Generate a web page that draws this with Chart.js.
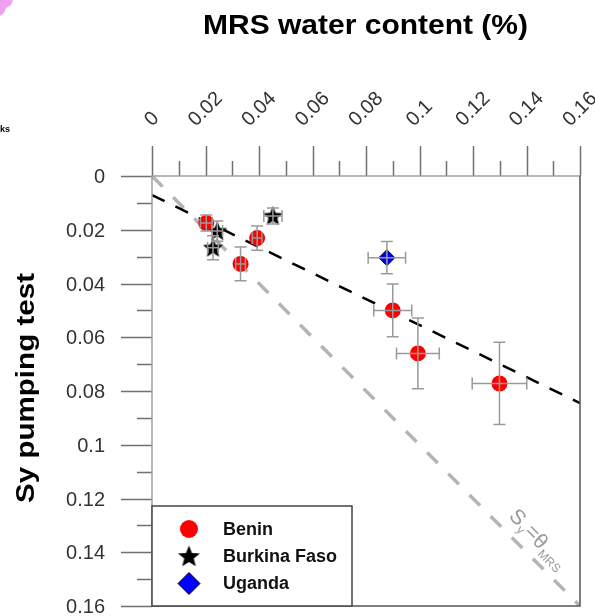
<!DOCTYPE html>
<html><head><meta charset="utf-8">
<script src="https://cdn.jsdelivr.net/npm/chart.js@4/dist/chart.umd.min.js"></script>
<style>html,body{margin:0;padding:0;background:#fff}#wrap{width:595px;height:616px;position:relative}</style>
</head><body><div id="wrap"><canvas id="c" width="595" height="616"></canvas></div>
<script>
// ---- data ----
const xTicks = [0, 0.02, 0.04, 0.06, 0.08, 0.1, 0.12, 0.14, 0.16];
const xTickLabels = ['0', '0.02', '0.04', '0.06', '0.08', '0.1', '0.12', '0.14', '0.16'];
const yTicks = [0, 0.02, 0.04, 0.06, 0.08, 0.1, 0.12, 0.14, 0.16];
const yTickLabels = ['0', '0.02', '0.04', '0.06', '0.08', '0.1', '0.12', '0.14', '0.16'];

const beninX    = [0.0203, 0.0393, 0.0331, 0.0900, 0.0994, 0.1299];
const beninY    = [0.0175, 0.0231, 0.0327, 0.0500, 0.0660, 0.0772];
const beninXErr = [0.0022, 0.0018, 0.0018, 0.0071, 0.0080, 0.0102];
const beninYErr = [0.0030, 0.0045, 0.0063, 0.0098, 0.0132, 0.0153];

const burkinaX    = [0.0452, 0.0244, 0.0228];
const burkinaY    = [0.0149, 0.0205, 0.0267];
const burkinaXErr = [0.0034, 0.0020, 0.0020];
const burkinaYErr = [0.0030, 0.0038, 0.0045];

const ugandaX    = [0.0878];
const ugandaY    = [0.0304];
const ugandaXErr = [0.0070];
const ugandaYErr = [0.0060];

const fitLineX = [0, 0.16];
const fitLineY = [0.0071, 0.0845];
const oneToOneX = [0, 0.16];
const oneToOneY = [0, 0.16];

const seriesNames = ['Benin', 'Burkina Faso', 'Uganda'];
const xTitle = 'MRS water content (%)';
const yTitle = 'Sy pumping test';

// ---- helpers ----
const FONT = '"Liberation Sans", Arial, sans-serif';
const toPts = (xs, ys) => xs.map((x, i) => ({x: x, y: ys[i]}));

function makeStar(outer, inner, color) {
  const s = Math.ceil(outer * 2 + 2);
  const c = document.createElement('canvas');
  c.width = s; c.height = s;
  const g = c.getContext('2d');
  g.fillStyle = color;
  g.beginPath();
  for (let i = 0; i < 10; i++) {
    const r = i % 2 === 0 ? outer : inner;
    const a = -Math.PI / 2 + i * Math.PI / 5;
    const px = s / 2 + r * Math.cos(a), py = s / 2 + 0.5 + r * Math.sin(a);
    if (i === 0) g.moveTo(px, py); else g.lineTo(px, py);
  }
  g.closePath();
  g.fill();
  return c;
}
const starImg = makeStar(10.5, 4.6, '#000');
const starLegend = makeStar(11.5, 5.0, '#000');

const errSets = [
  {xs: beninX, ys: beninY, xe: beninXErr, ye: beninYErr},
  {xs: burkinaX, ys: burkinaY, xe: burkinaXErr, ye: burkinaYErr},
  {xs: ugandaX, ys: ugandaY, xe: ugandaXErr, ye: ugandaYErr}
];

const decor = {
  id: 'decor',
  afterDatasetsDraw(chart) {
    const ctx = chart.ctx;
    const xs = chart.scales.x, ys = chart.scales.y;
    const ca = chart.chartArea;
    ctx.save();

    // error bars (drawn over markers)
    ctx.strokeStyle = '#9a9a9a';
    ctx.lineWidth = 1.5;
    const cap = 6;
    errSets.forEach(s => {
      s.xs.forEach((xv, i) => {
        const yv = s.ys[i];
        const px = xs.getPixelForValue(xv), py = ys.getPixelForValue(yv);
        const y1 = ys.getPixelForValue(yv - s.ye[i]), y2 = ys.getPixelForValue(yv + s.ye[i]);
        const x1 = xs.getPixelForValue(xv - s.xe[i]), x2 = xs.getPixelForValue(xv + s.xe[i]);
        ctx.beginPath();
        ctx.moveTo(px, y1); ctx.lineTo(px, y2);
        ctx.moveTo(px - cap, y1); ctx.lineTo(px + cap, y1);
        ctx.moveTo(px - cap, y2); ctx.lineTo(px + cap, y2);
        ctx.moveTo(x1, py); ctx.lineTo(x2, py);
        ctx.moveTo(x1, py - cap); ctx.lineTo(x1, py + cap);
        ctx.moveTo(x2, py - cap); ctx.lineTo(x2, py + cap);
        ctx.stroke();
      });
    });

    // ticks
    ctx.strokeStyle = '#707070';
    ctx.lineWidth = 1.5;
    ctx.beginPath();
    xTicks.forEach((v, i) => {
      const px = Math.round(xs.getPixelForValue(v)) + 0.5;
      ctx.moveTo(px, ca.top); ctx.lineTo(px, ca.top - 30);
      if (i < xTicks.length - 1) {
        const mx = Math.round(xs.getPixelForValue((v + xTicks[i + 1]) / 2)) + 0.5;
        ctx.moveTo(mx, ca.top); ctx.lineTo(mx, ca.top - 15);
      }
    });
    yTicks.forEach((v, i) => {
      const py = Math.round(ys.getPixelForValue(v)) + 0.5;
      ctx.moveTo(ca.left, py); ctx.lineTo(ca.left - 31, py);
      if (i < yTicks.length - 1) {
        const my = Math.round(ys.getPixelForValue((v + yTicks[i + 1]) / 2)) + 0.5;
        ctx.moveTo(ca.left, my); ctx.lineTo(ca.left - 15, my);
      }
    });
    ctx.stroke();

    // frame
    ctx.lineWidth = 1.5;
    ctx.strokeStyle = '#a0a0a0';
    ctx.beginPath();
    ctx.moveTo(ca.left, ca.bottom); ctx.lineTo(ca.left, ca.top); ctx.lineTo(ca.right, ca.top);
    ctx.stroke();
    ctx.strokeStyle = '#555';
    ctx.beginPath();
    ctx.moveTo(ca.right, ca.top); ctx.lineTo(ca.right, ca.bottom); ctx.lineTo(ca.left, ca.bottom);
    ctx.stroke();

    // tick labels
    ctx.fillStyle = '#333';
    ctx.font = '20px ' + FONT;
    const h = 14.3;
    xTickLabels.forEach((t, i) => {
      const px = xs.getPixelForValue(xTicks[i]);
      const w = ctx.measureText(t).width;
      const cy = 127 - (w + h) / (2 * Math.SQRT2);
      ctx.save();
      ctx.translate(px - 1, cy);
      ctx.rotate(-Math.PI / 4);
      ctx.textAlign = 'left';
      ctx.textBaseline = 'alphabetic';
      ctx.fillText(t, -w / 2, h / 2);
      ctx.restore();
    });
    ctx.textAlign = 'right';
    ctx.textBaseline = 'alphabetic';
    yTickLabels.forEach((t, i) => {
      const py = ys.getPixelForValue(yTicks[i]);
      ctx.fillText(t, 105, py + h / 2);
    });

    // axis titles
    ctx.fillStyle = '#000';
    ctx.font = 'bold 28px ' + FONT;
    let w = ctx.measureText(xTitle).width;
    ctx.save();
    ctx.translate(365.5, 33.5);
    ctx.scale(325 / w, 1);
    ctx.textAlign = 'center';
    ctx.fillText(xTitle, 0, 0);
    ctx.restore();

    ctx.font = 'bold 25px ' + FONT;
    w = ctx.measureText(yTitle).width;
    ctx.save();
    ctx.translate(34, 388);
    ctx.rotate(-Math.PI / 2);
    ctx.scale(230 / w, 1);
    ctx.textAlign = 'center';
    ctx.fillText(yTitle, 0, 0);
    ctx.restore();

    // Sy = theta_MRS label
    ctx.save();
    ctx.fillStyle = '#9a9a9a';
    ctx.translate(508, 517);
    ctx.rotate(Math.PI / 4);
    ctx.textAlign = 'left';
    let a = 0;
    ctx.font = '21px ' + FONT; ctx.fillText('S', a, 0); a += ctx.measureText('S').width + 1;
    ctx.font = '12px ' + FONT; ctx.fillText('y', a, 4); a += ctx.measureText('y').width + 1;
    ctx.font = '21px ' + FONT; ctx.fillText('=', a, 0); a += ctx.measureText('=').width;
    ctx.fillText('\u03B8', a, 1); a += ctx.measureText('\u03B8').width + 1;
    ctx.font = '12px ' + FONT; ctx.fillText('MRS', a, 6);
    ctx.restore();

    // legend
    ctx.fillStyle = '#fff';
    ctx.fillRect(152, 506, 200, 100);
    ctx.strokeStyle = '#444';
    ctx.lineWidth = 1.5;
    ctx.strokeRect(152, 506, 200, 100);
    const lx = 189, ly = [529, 556.5, 583.5];
    ctx.fillStyle = '#ff0000';
    ctx.beginPath(); ctx.arc(lx, ly[0], 9, 0, Math.PI * 2); ctx.fill();
    ctx.drawImage(starLegend, lx - starLegend.width / 2, ly[1] - starLegend.height / 2);
    ctx.fillStyle = '#0000ff';
    ctx.strokeStyle = '#000';
    ctx.lineWidth = 1;
    ctx.beginPath();
    ctx.moveTo(lx, ly[2] - 11); ctx.lineTo(lx + 11, ly[2]); ctx.lineTo(lx, ly[2] + 11); ctx.lineTo(lx - 11, ly[2]);
    ctx.closePath(); ctx.fill(); ctx.stroke();
    ctx.fillStyle = '#111';
    ctx.font = 'bold 18px ' + FONT;
    ctx.textAlign = 'left';
    ctx.textBaseline = 'middle';
    seriesNames.forEach((n, i) => ctx.fillText(n, 223, ly[i] + 1));

    // cropped fragments at top-left of the reference
    ctx.fillStyle = '#f0a0f0';
    ctx.beginPath();
    ctx.moveTo(0, 0); ctx.lineTo(13, 0); ctx.lineTo(11, 5); ctx.lineTo(6, 8); ctx.lineTo(4, 13); ctx.lineTo(0, 16);
    ctx.closePath(); ctx.fill();
    ctx.fillStyle = '#000';
    ctx.font = 'bold 9px ' + FONT;
    ctx.textBaseline = 'alphabetic';
    ctx.fillText('ks', 0, 132);

    ctx.restore();
  }
};

new Chart(document.getElementById('c'), {
  type: 'scatter',
  data: {
    datasets: [
      {label: seriesNames[0], data: toPts(beninX, beninY), pointStyle: 'circle', pointRadius: 8,
       backgroundColor: '#ff0000', borderWidth: 0, order: 1},
      {label: seriesNames[1], data: toPts(burkinaX, burkinaY), pointStyle: starImg, pointRadius: 10,
       backgroundColor: '#000', borderWidth: 0, order: 1},
      {label: seriesNames[2], data: toPts(ugandaX, ugandaY), pointStyle: 'rectRot', pointRadius: 8,
       backgroundColor: '#0000ff', borderColor: '#000', borderWidth: 1, order: 1},
      {label: 'fit', data: toPts(fitLineX, fitLineY), showLine: true, pointRadius: 0,
       borderColor: '#000', borderWidth: 2.5, borderDash: [14, 12], order: 2},
      {label: '1:1', data: toPts(oneToOneX, oneToOneY), showLine: true, pointRadius: 0,
       borderColor: '#b4b4b4', borderWidth: 3.5, borderDash: [15, 15], order: 3}
    ]
  },
  options: {
    responsive: false,
    animation: false,
    devicePixelRatio: 1,
    layout: {padding: {left: 152, top: 176, right: 15, bottom: 10}},
    scales: {
      x: {type: 'linear', min: 0, max: 0.16, display: false},
      y: {type: 'linear', min: 0, max: 0.16, reverse: true, display: false}
    },
    plugins: {legend: {display: false}, tooltip: {enabled: false}}
  },
  plugins: [decor]
});
</script>
</body></html>
